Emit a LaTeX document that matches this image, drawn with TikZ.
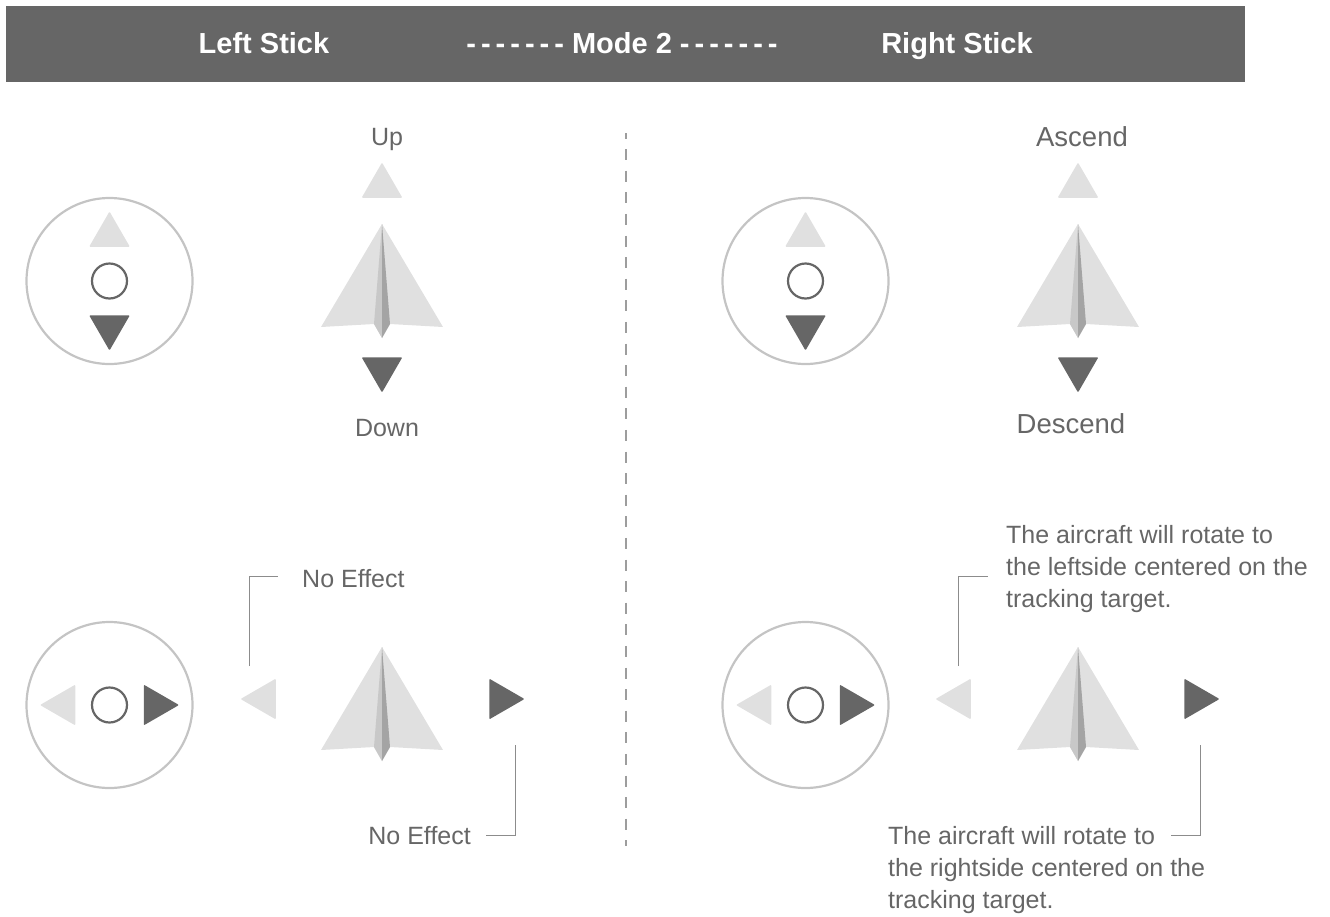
\documentclass[tikz,border=0pt]{standalone}
\usepackage{fontspec}
\setmainfont{Liberation Sans}
\usetikzlibrary{positioning,calc,shapes.geometric}
\definecolor{darkgrey}{HTML}{666666}
\definecolor{palegrey}{HTML}{E0E0E0}
\definecolor{ringgrey}{HTML}{C4C4C4}
\definecolor{foldlight}{HTML}{C8C8C8}
\definecolor{folddark}{HTML}{A4A4A4}
\definecolor{linegrey}{HTML}{8C8C8C}
\newcommand{\hyphenrun}{-\kern5pt-\kern5pt-\kern5pt-\kern5pt-\kern5pt-\kern5pt-}
\tikzset{
  arrowhead/.style={regular polygon,regular polygon sides=3,minimum size=47pt,inner sep=0pt,outer sep=0pt,rounded corners=1pt},
  pale/.style={fill=palegrey},
  dark/.style={fill=darkgrey},
  up/.style={arrowhead,shape border rotate=0},
  down/.style={arrowhead,shape border rotate=180},
  lefthead/.style={arrowhead,shape border rotate=90},
  righthead/.style={arrowhead,shape border rotate=270},
  ring/.style={circle,draw=ringgrey,line width=2.2pt,minimum size=166pt,inner sep=0pt},
  knob/.style={circle,draw=darkgrey,line width=2.2pt,minimum size=35pt,inner sep=0pt},
  label/.style={text=darkgrey,font=\fontsize{25}{32}\selectfont,inner sep=0pt,align=left},
  biglabel/.style={label,font=\fontsize{27.5}{32}\selectfont},
  heading/.style={text=white,font=\fontsize{29}{32}\selectfont\bfseries,inner sep=0pt,anchor=base},
  leader/.style={draw=linegrey,line width=1pt},
  plane/.pic={
    \fill[palegrey] (0,0) -- (61,103) -- (8,100) -- (0,114) -- (-8,100) -- (-61,103) -- cycle;
    \fill[foldlight] (0,0) -- (-8,100) -- (0,114) -- cycle;
    \fill[folddark] (0,0) -- (8,100) -- (0,114) -- cycle;
  }
}
\begin{document}
\begin{tikzpicture}[x=1pt,y=-1pt,on grid]
\useasboundingbox (0,0) rectangle (1330,916);
\fill[darkgrey] (6,6) rectangle (1245,82);
\node[heading] (leftstick) at (264,53) {Left Stick};
\node[heading] (modetwo) at (622,53) {\hyphenrun{} Mode 2 \hyphenrun};
\node[heading] (rightstick) at (957,53) {Right Stick};
\draw[draw=linegrey!85,line width=1.6pt,dash pattern=on 11pt off 10.6pt,dash phase=5.5pt] (626,133) -- (626,846);
% left stick, vertical
\node[ring] (ringA) at (109.5,281) {};
\node[knob] (knobA) at (ringA) {};
\node[up,pale,above=46pt of ringA] (headAu) {};
\node[down,dark,below=46pt of ringA] (headAd) {};
\pic at (382,224) {plane};
\node[up,pale] (stickAu) at (382,186) {};
\node[down,dark] (stickAd) at (382,369) {};
\node[label] (upl) at (387,139) {Up};
\node[label] (downl) at (387,428) {Down};
% right stick, vertical
\node[ring] (ringB) at (805.5,281) {};
\node[knob] (knobB) at (ringB) {};
\node[up,pale,above=46pt of ringB] (headBu) {};
\node[down,dark,below=46pt of ringB] (headBd) {};
\pic at (1078,224) {plane};
\node[up,pale] (stickBu) at (1078,186) {};
\node[down,dark] (stickBd) at (1078,369) {};
\node[biglabel] (ascendl) at (1082,137) {Ascend};
\node[biglabel] (descendl) at (1071,424) {Descend};
% left stick, horizontal
\node[ring] (ringC) at (109.5,705) {};
\node[knob] (knobC) at (ringC) {};
\node[lefthead,pale,left=46pt of ringC] (headCl) {};
\node[righthead,dark,right=46pt of ringC] (headCr) {};
\pic at (382,647) {plane};
\node[lefthead,pale] (stickCl) at (264,699) {};
\node[righthead,dark] (stickCr) at (501,699) {};
\node[label,anchor=west] (effectA) at (302,579) {No Effect};
\node[label,anchor=east] (effectB) at (471,836) {No Effect};
% right stick, horizontal
\node[ring] (ringD) at (805.5,705) {};
\node[knob] (knobD) at (ringD) {};
\node[lefthead,pale,left=46pt of ringD] (headDl) {};
\node[righthead,dark,right=46pt of ringD] (headDr) {};
\pic at (1078,647) {plane};
\node[lefthead,pale] (stickDl) at (959,699) {};
\node[righthead,dark] (stickDr) at (1196,699) {};
\node[label,anchor=north west] (rotateA) at (1006,525) {The aircraft will rotate to\\the leftside centered on the\\tracking target.};
\node[label,anchor=north west] (rotateB) at (888,826) {The aircraft will rotate to\\the rightside centered on the\\tracking target.};
\coordinate (leadA) at (249,666);
\coordinate (leadB) at (515,745);
\coordinate (leadC) at (958,666);
\coordinate (leadD) at (1200,745);
\draw[leader] (leadA) |- ($(effectA.west)+(-24,-3)$);
\draw[leader] (leadB) |- ($(effectB.east)+(15,-1)$);
\draw[leader] (leadC) |- ($(rotateA.north west)+(-18,51)$);
\draw[leader] (leadD) |- ($(rotateB.north west)+(283,9)$);
\end{tikzpicture}
\end{document}
